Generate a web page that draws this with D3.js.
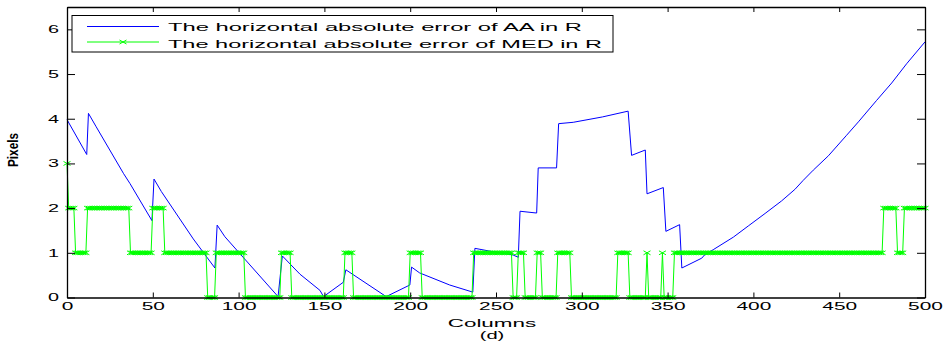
<!DOCTYPE html>
<html>
<head>
<meta charset="utf-8">
<script src="https://cdn.jsdelivr.net/npm/d3@7"></script>
<style>
  html, body { margin: 0; padding: 0; background: #fff; }
  text { font-family: "Liberation Sans", Arial, Helvetica, sans-serif; }
</style>
</head>
<body>
<svg id="chart" width="949" height="349"></svg>
<script>
// ---------- data ----------
const AA_COLS = [0, 11.5, 12.5, 17, 33, 36.7, 49.5, 50.7, 55, 73.6, 86.2, 87.5, 92, 123, 125.5, 130, 135.8, 147.4, 149.5,
  161, 162.5, 186, 199.8, 200.8, 205.5, 223, 236.5, 237.7, 246, 260, 263, 264, 273.7, 274.6, 285.3, 286.5,
  295, 312, 327, 329, 337, 338, 347.5, 349, 357, 358.3, 369.9, 371.5, 376.6, 388.3, 397, 406.8, 416.4, 424.2,
  429, 434.9, 443.7, 454.3, 461.2, 471.8, 480.6, 489.3, 500];
const AA_VALS = [3.98, 3.2, 4.12, 3.82, 2.77, 2.55, 1.72, 2.65, 2.37, 1.31, 0.66, 1.62, 1.36, 0.02, 0.93, 0.75, 0.52, 0.16, 0.02,
  0.34, 0.62, 0.02, 0.28, 0.68, 0.55, 0.28, 0.12, 1.1, 1.04, 0.95, 0.9, 1.93, 1.89, 2.9, 2.9, 3.89,
  3.92, 4.04, 4.17, 3.18, 3.3, 2.32, 2.46, 1.48, 1.63, 0.66, 0.88, 0.95, 1.07, 1.35, 1.6, 1.88, 2.16, 2.42,
  2.62, 2.85, 3.17, 3.63, 3.93, 4.41, 4.8, 5.23, 5.72];

// MED values per column, stored as runs of equal value
const MED_RUN_START = [0, 1, 5, 12, 37, 50, 57, 82, 87, 104, 125, 131, 162, 167, 200, 207, 237, 260, 263, 267, 274, 277,
  286, 294, 321, 328, 338, 339, 347, 348, 354, 476, 484, 488];
const MED_RUN_END   = [0, 4, 11, 36, 49, 56, 81, 86, 103, 124, 130, 161, 166, 199, 206, 236, 259, 262, 266, 273, 276, 285,
  293, 320, 327, 337, 338, 346, 347, 353, 475, 483, 487, 500];
const MED_RUN_LEVEL = [3, 2, 1, 2, 1, 2, 1, 0, 1, 0, 1, 0, 1, 0, 1, 0, 1, 0, 1, 0, 1, 0,
  1, 0, 1, 0, 1, 0, 1, 0, 1, 2, 1, 2];

const X_TICKS = [0, 50, 100, 150, 200, 250, 300, 350, 400, 450, 500];
const Y_TICKS = [0, 1, 2, 3, 4, 5, 6];
const SERIES_NAMES = ["The horizontal absolute error of AA in R", "The horizontal absolute error of MED in R"];
const X_LABEL = "Columns";
const X_SUBLABEL = "(d)";
const Y_LABEL = "Pixels";

// ---------- build tables ----------
const aaData = AA_COLS.map((c, i) => ({ x: c, y: AA_VALS[i] }));
const medData = [];
MED_RUN_START.forEach((s, i) => {
  for (let c = s; c <= MED_RUN_END[i]; c++) medData.push({ x: c, y: MED_RUN_LEVEL[i] });
});

// ---------- layout ----------
const svg = d3.select("#chart");
const L = 67, R = 925, T = 7, B = 297.5;
const STRETCH = 1.95;
const x = d3.scaleLinear().domain([0, 500]).range([L, R]);
const y = d3.scaleLinear().domain([0, 6.5]).range([B, T]);

svg.append("rect").attr("width", 949).attr("height", 349).attr("fill", "#fff");

function stretchTexts(sel, k) {
  sel.each(function () {
    const len = this.getComputedTextLength();
    d3.select(this).attr("textLength", len * k).attr("lengthAdjust", "spacingAndGlyphs");
  });
}

// ---------- series ----------
const line = d3.line().x(d => x(d.x)).y(d => y(d.y));
svg.append("path").datum(aaData).attr("d", line)
  .attr("fill", "none").attr("stroke", "#0000ff").attr("stroke-width", 1);

svg.append("path").datum(medData).attr("d", line)
  .attr("fill", "none").attr("stroke", "#00ff00").attr("stroke-width", 1);

const markerPath = "M-3.5,-2L3.5,2M-3.5,2L3.5,-2";
svg.append("g").selectAll("path").data(medData).join("path")
  .attr("transform", d => `translate(${x(d.x)},${y(d.y)})`)
  .attr("d", markerPath).attr("fill", "none").attr("stroke", "#00ff00").attr("stroke-width", 1);

// ---------- axes ----------
function styleAxis(g) {
  g.select(".domain").attr("stroke", "#000").attr("stroke-width", 1.3);
  g.selectAll(".tick line").attr("stroke", "#000").attr("stroke-width", 1);
  g.selectAll("text").attr("fill", "#000").attr("font-size", 10.7)
    .attr("font-family", "Liberation Sans, Arial, sans-serif");
}

const gx = svg.append("g").attr("transform", `translate(0,${B})`)
  .call(d3.axisBottom(x).tickValues(X_TICKS).tickSizeInner(-5).tickSizeOuter(0).tickPadding(5).tickFormat(d3.format("d")))
  .call(styleAxis);
svg.append("g").attr("transform", `translate(0,${T})`)
  .call(d3.axisTop(x).tickValues(X_TICKS).tickSizeInner(-5).tickSizeOuter(0).tickFormat(""))
  .call(styleAxis);
const gy = svg.append("g").attr("transform", `translate(${L},0)`)
  .call(d3.axisLeft(y).tickValues(Y_TICKS).tickSizeInner(-8).tickSizeOuter(0).tickPadding(8).tickFormat(d3.format("d")))
  .call(styleAxis);
svg.append("g").attr("transform", `translate(${R},0)`)
  .call(d3.axisRight(y).tickValues(Y_TICKS).tickSizeInner(-8).tickSizeOuter(0).tickFormat(""))
  .call(styleAxis);

stretchTexts(gx.selectAll("text"), STRETCH);
stretchTexts(gy.selectAll("text"), 1.85);

// axis titles
const xl = svg.append("text").attr("x", 492).attr("y", 326.7).attr("text-anchor", "middle")
  .attr("font-size", 11.5).attr("fill", "#000").text(X_LABEL);
stretchTexts(xl, 1.95);
const xl2 = svg.append("text").attr("x", 492).attr("y", 338.5).attr("text-anchor", "middle")
  .attr("font-size", 11.5).attr("fill", "#000").text(X_SUBLABEL);
stretchTexts(xl2, 1.75);

svg.append("text")
  .attr("transform", "translate(18.3,150) scale(1.2,1) rotate(-90)")
  .attr("text-anchor", "middle").attr("font-size", 12).attr("font-weight", "bold")
  .attr("fill", "#000").attr("textLength", 34).attr("lengthAdjust", "spacingAndGlyphs")
  .text(Y_LABEL);

// ---------- legend ----------
const lg = svg.append("g");
lg.append("rect").attr("x", 72).attr("y", 15.5).attr("width", 541).attr("height", 36.5)
  .attr("fill", "#fff").attr("stroke", "#000").attr("stroke-width", 1);
const legendRows = [
  { name: SERIES_NAMES[0], color: "#0000ff", ly: 26.5, ty: 31, len: 414, marker: false },
  { name: SERIES_NAMES[1], color: "#00ff00", ly: 42, ty: 47.5, len: 434, marker: true }
];
legendRows.forEach(r => {
  lg.append("line").attr("x1", 87).attr("x2", 159).attr("y1", r.ly).attr("y2", r.ly)
    .attr("stroke", r.color).attr("stroke-width", 1);
  if (r.marker) {
    lg.append("path").attr("transform", `translate(123,${r.ly})`).attr("d", markerPath)
      .attr("fill", "none").attr("stroke", r.color).attr("stroke-width", 1);
  }
  lg.append("text").attr("x", 168).attr("y", r.ty).attr("font-size", 11.5).attr("fill", "#000")
    .attr("textLength", r.len).attr("lengthAdjust", "spacingAndGlyphs").text(r.name);
});
</script>
</body>
</html>
